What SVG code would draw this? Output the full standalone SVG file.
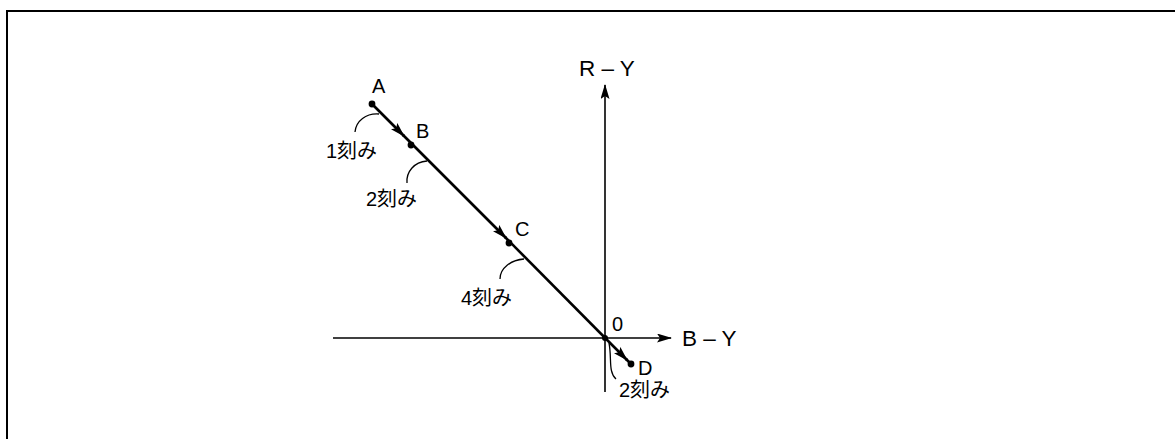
<svg xmlns="http://www.w3.org/2000/svg" width="1175" height="439" viewBox="0 0 1175 439">
<defs>
<style>
text{font-family:"Liberation Sans","Noto Sans CJK JP",sans-serif;font-size:20px;fill:#000}
.big{font-size:22.5px}
.ax{stroke:#000;stroke-width:1.6;fill:none}
.main{stroke:#000;stroke-width:2.6;fill:none}
.arc{stroke:#000;stroke-width:1.3;fill:none}
.dot{fill:#000}
</style>
<marker id="ah" viewBox="0 0 15 9" refX="14" refY="4.5" markerWidth="15" markerHeight="9" markerUnits="userSpaceOnUse" orient="auto">
<path d="M0,0 L15,4.5 L0,9 L3,4.5 Z" fill="#000"/>
</marker>
</defs>
<rect x="7" y="11" width="1200" height="500" fill="none" stroke="#000" stroke-width="2"/>
<g id="connectors">
<line class="ax" x1="605" y1="392" x2="605" y2="85" marker-end="url(#ah)"/>
<line class="ax" x1="333" y1="338" x2="671" y2="338" marker-end="url(#ah)"/>
<line class="main" x1="372" y1="104" x2="404" y2="136" marker-end="url(#ah)"/>
<line class="main" x1="403" y1="135" x2="506" y2="238" marker-end="url(#ah)"/>
<line class="main" x1="505" y1="237" x2="627" y2="360" marker-end="url(#ah)"/>
<line class="main" x1="626" y1="359" x2="631" y2="364"/>
<path class="arc" d="M379 114 C366 113 356 121 355 132"/>
<path class="arc" d="M427 161 C414 162 406 172 407 183"/>
<path class="arc" d="M524 259 C511 260 500 268 500 279"/>
<path class="arc" d="M609 343 C612 358 608 372 616 379"/>
</g>
<g id="A"><circle class="dot" cx="372" cy="104" r="3.4"/><text x="372" y="93">A</text></g>
<g id="B"><circle class="dot" cx="411" cy="145" r="3.4"/><text x="416" y="138">B</text></g>
<g id="C"><circle class="dot" cx="509" cy="243" r="3.4"/><text x="515" y="236">C</text></g>
<g id="O"><circle class="dot" cx="605" cy="338" r="3"/><text x="612" y="331">0</text></g>
<g id="D"><circle class="dot" cx="631" cy="364" r="3.4"/><text x="638" y="375">D</text></g>
<g id="RY"><text class="big" x="579" y="76">R – Y</text></g>
<g id="BY"><text class="big" x="682" y="346">B – Y</text></g>
<g id="L1"><text x="326" y="158">1刻み</text></g>
<g id="L2"><text x="366" y="206">2刻み</text></g>
<g id="L4"><text x="461" y="305">4刻み</text></g>
<g id="L2b"><text x="619" y="397">2刻み</text></g>
</svg>
